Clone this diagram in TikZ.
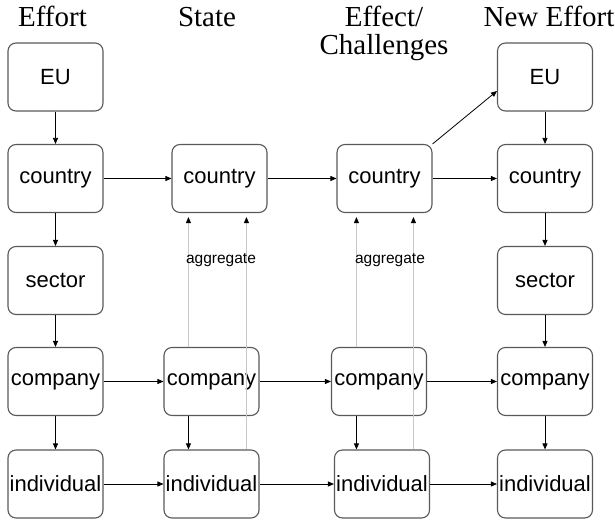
\documentclass[tikz,border=0pt]{standalone}
\usepackage{fontspec}
\setmainfont{Liberation Serif}
\setsansfont{Liberation Sans}
\usetikzlibrary{arrows.meta}
\tikzset{
  box/.style={draw=black!65, line width=1.1pt, rounded corners=8pt,
    minimum width=95pt, minimum height=68pt, inner sep=0pt,
    font=\sffamily\fontsize{22}{24}\selectfont},
  arr/.style={-{Triangle[length=6pt,width=5pt,color=black]}, line width=0.8pt},
  agg/.style={arr, draw=black!22, shorten >=4pt},
  head/.style={anchor=base, align=center, font=\fontsize{29}{28}\selectfont},
  lbl/.style={font=\sffamily\fontsize{15.5}{16}\selectfont},
}
\begin{document}
\begin{tikzpicture}[x=1pt,y=-1pt]
  \useasboundingbox (0,0) rectangle (615,521);
  %% column headings
  \node[head] (hEffort) at (52.5,27) {Effort};
  \node[head] (hState) at (207,27) {State};
  \node[head] (hEffect) at (384,55) {Effect/\\Challenges};
  \node[head] (hNew) at (549,27) {New Effort};

  %% first and last column
  \foreach \n/\t/\y in {eu/EU/77, co/country/178.5, se/sector/280.5,
                        cm/company/381.5, in/individual/484} {
    \node[box] (e\n) at (55.5,\y) {\t};
    \node[box] (n\n) at (545,\y) {\t};
  }
  %% state and effect columns
  \node[box] (sco) at (219.5,178.5) {country};
  \node[box] (scm) at (211.5,381.5) {company};
  \node[box] (sin) at (211.5,484) {individual};
  \node[box] (fco) at (384.5,178.5) {country};
  \node[box] (fcm) at (379,381.5) {company};
  \node[box] (fin) at (382,484) {individual};

  %% downward arrows
  \foreach \a/\b in {eu/co, co/se, se/cm, cm/in} {
    \draw[arr] (e\a) -- (e\b);
    \draw[arr] (n\a) -- (n\b);
  }
  %% arrows across
  \foreach \r in {co, cm, in} {
    \draw[arr] (e\r) -- (s\r);
    \draw[arr] (s\r) -- (f\r);
    \draw[arr] (f\r) -- (n\r);
  }
  \draw[arr] (fco.north east) -- ([yshift=-14pt]neu.west);

  %% aggregate lines
  \coordinate (sl) at ([xshift=25pt]scm.north west);
  \coordinate (sr) at ([xshift=83pt]sin.north west);
  \coordinate (fl) at ([xshift=25.5pt]fcm.north west);
  \coordinate (fr) at ([xshift=79.5pt]fin.north west);
  \draw[arr] (sl |- scm.south) -- (sl |- sin.north);
  \draw[arr] (fl |- fcm.south) -- (fl |- fin.north);
  \draw[agg] (sl) -- (sl |- sco.south);
  \draw[agg] (sr) -- (sr |- sco.south);
  \draw[agg] (fl) -- (fl |- fco.south);
  \draw[agg] (fr) -- (fr |- fco.south);
  \node[lbl] (sagg) at (221,260) {aggregate};
  \node[lbl] (fagg) at (390,260) {aggregate};
\end{tikzpicture}
\end{document}
